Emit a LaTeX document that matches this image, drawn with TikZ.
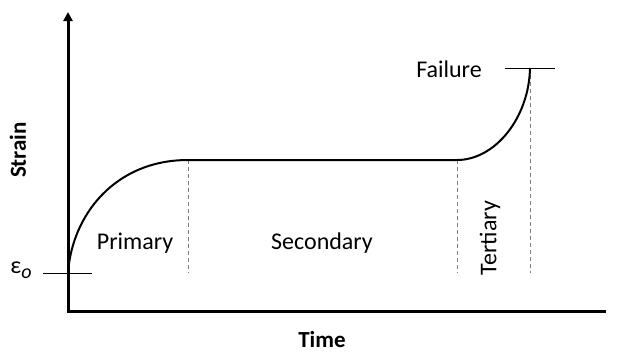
\documentclass[tikz,border=0pt]{standalone}
\usepackage{fontspec}
\setmainfont{Carlito}
\usetikzlibrary{arrows.meta}
\begin{document}
\begin{tikzpicture}[x=1pt,y=-1pt,
  axis/.style={line width=3pt},
  curve/.style={line width=2pt},
  tick/.style={line width=1pt},
  guide/.style={line width=1pt, gray, dash pattern=on 4pt off 3pt},
  lab/.style={font=\fontsize{24}{28}\selectfont, inner sep=0pt},
  axlab/.style={font=\fontsize{23}{27}\selectfont\bfseries, inner sep=0pt}]
\useasboundingbox (0,0) rectangle (617,354);
\coordinate (O) at (68,311);
\coordinate (Ytop) at (68,12);
\coordinate (Xend) at (606,311);
\coordinate (E0) at (68,273);
\coordinate (P1) at (188,160);
\coordinate (P2) at (457,160);
\coordinate (F) at (530,68);
\coordinate (TickL) at (43,273);
\coordinate (TickR) at (92,273);
\coordinate (FL) at (505,68);
\coordinate (FR) at (555,68);
\coordinate (P1b) at (188,273);
\coordinate (P2b) at (457,273);
\coordinate (Fb) at (530,273);
% axes
\draw[axis, -{Triangle[length=9pt,width=9pt]}] (O) -- (Ytop);
\draw[axis] ([xshift=-1.5pt]O) -- (Xend);
% ticks
\draw[tick] (TickL) -- (TickR);
\draw[tick] (FL) -- (FR);
% guides
\draw[guide] (P1) -- (P1b);
\draw[guide] (P2) -- (P2b);
\draw[guide] (F) -- (Fb);
% curve
\draw[curve] (E0) .. controls (72,215) and (115,160) .. (P1) -- (P2)
  .. controls (495,160) and (529,118) .. (F);
% labels
\node[lab] (eps) at (21,270) {ε{\fontsize{20}{24}\selectfont\raisebox{-5pt}{\textit{o}}}};
\node[lab] (prim) at (135,243) {Primary};
\node[lab] (sec) at (322,243) {Secondary};
\node[lab, rotate=90] (ter) at (490,238) {Tertiary};
\node[lab] (fail) at (449,69) {Failure};
\node[axlab, rotate=90] (strain) at (18,150) {Strain};
\node[axlab] (time) at (322,340) {Time};
\end{tikzpicture}
\end{document}
